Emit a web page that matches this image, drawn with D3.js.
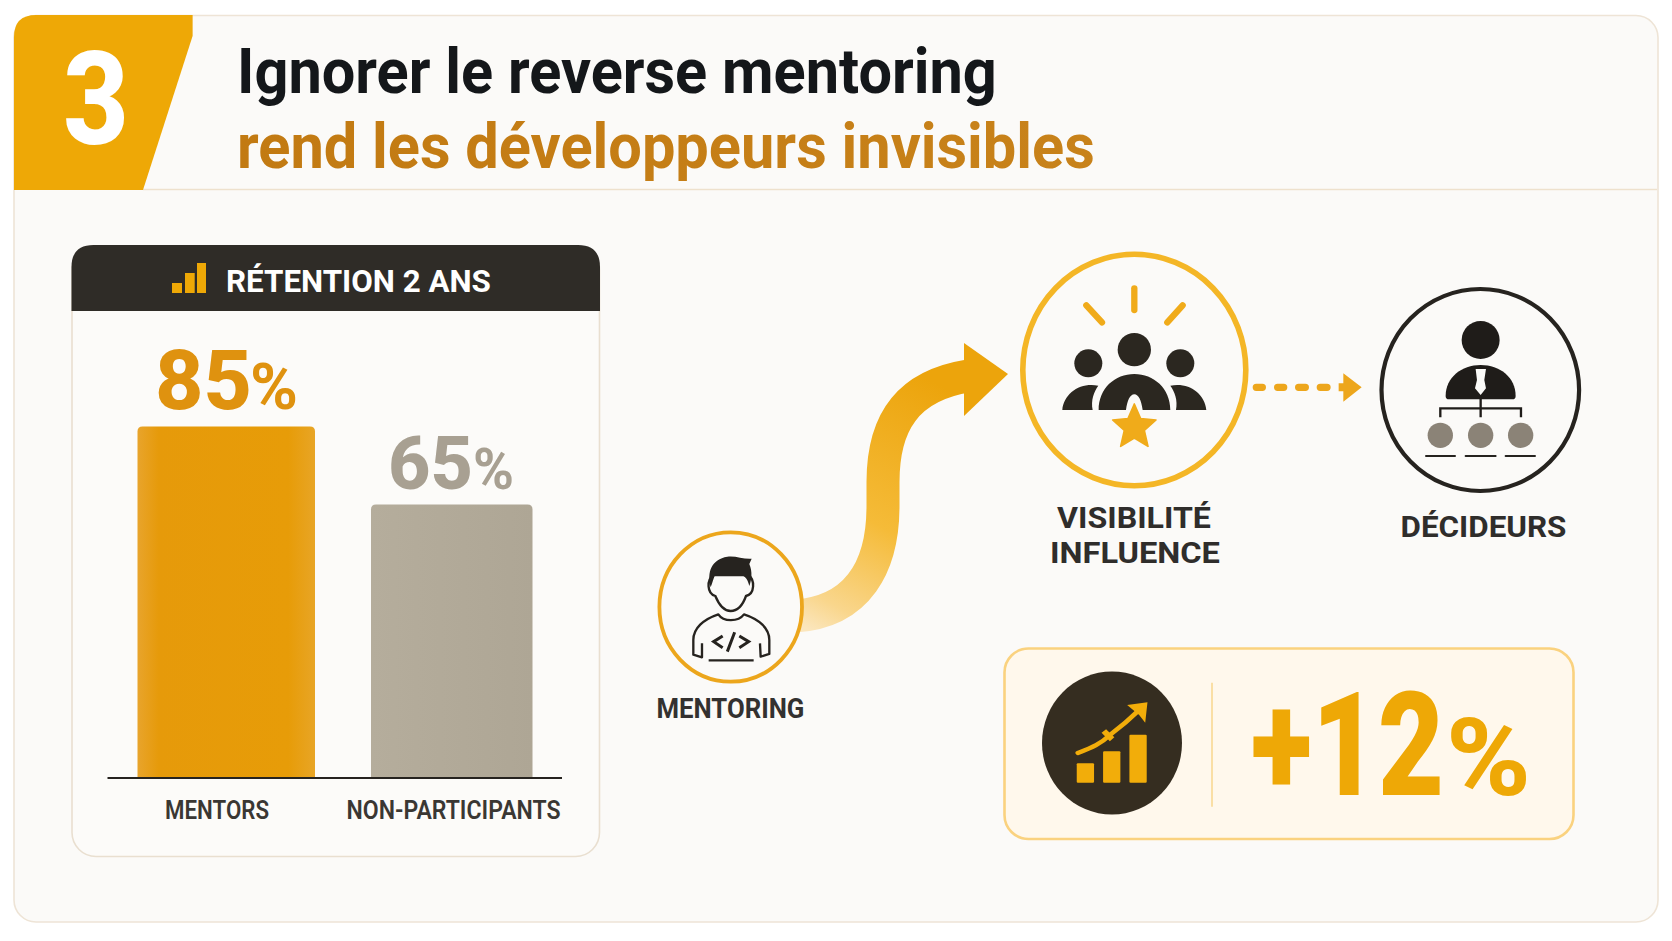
<!DOCTYPE html>
<html lang="fr">
<head>
<meta charset="utf-8">
<title>Ignorer le reverse mentoring</title>
<script src="https://cdn.jsdelivr.net/npm/d3@7"></script>
<style>
html,body{margin:0;padding:0;background:#fff;overflow:hidden}
svg{display:block}
text{font-family:Roboto,"Liberation Sans",sans-serif}
</style>
</head>
<body>
<svg id="c" width="1672" height="941"></svg>
<script>
const categories = ["MENTORS", "NON-PARTICIPANTS"];
const retention = [85, 65];
const valueSuffix = "%";
const chartTitle = "RÉTENTION 2 ANS";
const titleLines = ["Ignorer le reverse mentoring", "rend les développeurs invisibles"];
const stepNumber = "3";
const gain = "+12";

const svg = d3.select("#c");
const defs = svg.append("defs");
const AMBER = "#eea806", INK = "#2b2720";

function gradient(id, attrs, stops){
  const g = defs.append("linearGradient").attr("id", id);
  Object.entries(attrs).forEach(([k,v]) => g.attr(k,v));
  stops.forEach(([o,c]) => g.append("stop").attr("offset",o).attr("stop-color",c));
}
gradient("bandGrad",{gradientUnits:"userSpaceOnUse",x1:800,y1:625,x2:930,y2:380},
  [[0,"#fbe6bd"],[0.12,"#f9d68c"],[0.45,"#f5bb38"],[1,"#eca40c"]]);
gradient("mentorGrad",{x1:0,x2:1,y1:0,y2:0},[[0,"#e8a42c"],[0.12,"#e69a0a"],[0.85,"#e79c08"],[1,"#e8a526"]]);
gradient("otherGrad",{x1:0,x2:1,y1:0,y2:0},[[0,"#b5ad9c"],[1,"#aea695"]]);
gradient("title2Grad",{x1:0,x2:1,y1:0,y2:0},[[0,"#c27a12"],[1,"#c8821a"]]);

/* fits the text to a target width by a horizontal scale, so that its real box is that width */
function label(parent, str, x, y, size, weight, fill, length){
  const t = parent.append("text").attr("font-size",size).attr("font-weight",weight).attr("fill",fill).text(str);
  const natural = t.node().getComputedTextLength();
  t.attr("transform",`translate(${x},${y}) scale(${length/natural},1)`);
  return t;
}

/* ---------- outer card and header ---------- */
svg.append("rect").attr("x",14).attr("y",15.5).attr("width",1644).attr("height",906.5)
  .attr("rx",22).attr("fill","#fbfaf8").attr("stroke","#eee4d6").attr("stroke-width",1.6);
svg.append("line").attr("x1",143).attr("x2",1657).attr("y1",189.5).attr("y2",189.5)
  .attr("stroke","#eee1cd").attr("stroke-width",1.6);
svg.append("path").attr("fill",AMBER)
  .attr("d","M14,190 L14,37 Q14,15 36,15 L192.6,15 L192.6,36 L143,190 Z");
label(svg, stepNumber, 63, 144, 129, 800, "#ffffff", 66);
label(svg, titleLines[0], 237, 93, 63, 700, "#14171a", 760);
label(svg, titleLines[1], 237, 168, 63, 700, "url(#title2Grad)", 858);

/* ---------- bar chart panel ---------- */
svg.append("rect").attr("x",72).attr("y",246).attr("width",527.5).attr("height",610.5)
  .attr("rx",24).attr("fill","#fcfbf9").attr("stroke","#e9dfd0").attr("stroke-width",1.6);
svg.append("path").attr("fill","#2f2c27")
  .attr("d","M71.5,311 L71.5,267 Q71.5,245 93.5,245 L578,245 Q600,245 600,267 L600,311 Z");
const headBars = svg.append("g").attr("fill",AMBER);
[[172,283,10,10],[185,273,9.7,20],[197,263,9,30]].forEach(b =>
  headBars.append("rect").attr("x",b[0]).attr("y",b[1]).attr("width",b[2]).attr("height",b[3]));
label(svg, chartTitle, 226, 292, 31, 700, "#ffffff", 265);

const x = d3.scalePoint().domain(categories).range([226.25, 451.75]);
const y = d3.scaleLinear().domain([-5.13, 85]).range([778, 426.5]);
const barHalf = d3.scaleOrdinal().domain(categories).range([88.75, 80.75]);
const fills = d3.scaleOrdinal().domain(categories).range(["url(#mentorGrad)","url(#otherGrad)"]);
const valueColor = d3.scaleOrdinal().domain(categories).range(["#df920f","#a8a092"]);

const data = categories.map((c,i) => ({c, v:retention[i]}));
svg.append("g").selectAll("path").data(data).join("path")
  .attr("fill", d => fills(d.c))
  .attr("d", d => {
    const l = x(d.c)-barHalf(d.c), r = x(d.c)+barHalf(d.c), t = y(d.v), b = y(y.domain()[0]), k = 5;
    return `M${l},${b} L${l},${t+k} Q${l},${t} ${l+k},${t} L${r-k},${t} Q${r},${t} ${r},${t+k} L${r},${b} Z`;
  });

const axis = svg.append("g").attr("transform","translate(0,778)")
  .call(d3.axisBottom(x).tickSize(0).tickPadding(0));
axis.select(".domain").remove();
axis.append("line").attr("x1",107.5).attr("x2",562).attr("stroke","#26231f").attr("stroke-width",1.8);
const tickText = axis.selectAll(".tick text");
const tickDx = [-9.75, 1.25], tickLen = [104, 214];
tickText.each(function(d,i){
  d3.select(this).attr("x",tickDx[i]).attr("y",41).attr("dy",null)
    .attr("font-size",25).attr("font-weight",600).attr("fill","#3a3733")
    .attr("font-family","Roboto").attr("text-anchor","middle")
    .attr("textLength",tickLen[i]).attr("lengthAdjust","spacingAndGlyphs");
});

const numSpec = [
  {nx:155, nw:97, ny:409, ns:84, px:250, pw:48, ps:64},
  {nx:388, nw:85, ny:488.5, ns:75, px:473, pw:41, ps:58}
];
data.forEach((d,i) => {
  const s = numSpec[i];
  label(svg, String(d.v), s.nx, s.ny, s.ns, 800, valueColor(d.c), s.nw);
  label(svg, valueSuffix, s.px, s.ny, s.ps, 700, valueColor(d.c), s.pw);
});

/* ---------- flow arrow ---------- */
svg.append("path").attr("fill","none").attr("stroke","url(#bandGrad)").attr("stroke-width",33)
  .attr("d","M795,616 C858,612 883,566 883,506 L883,482 C883,424 906,386 968,376");
svg.append("path").attr("fill","#eca40c").attr("d","M1008,374 L964,343 L964,416 Z");

/* ---------- mentoring node ---------- */
svg.append("ellipse").attr("cx",730.7).attr("cy",607).attr("rx",71.3).attr("ry",74.7)
  .attr("fill","#fbfaf8").attr("stroke","#eca61c").attr("stroke-width",3.8);
const m = svg.append("g").attr("transform","translate(640,500) scale(0.3333)");
m.append("path").attr("fill","#fbfaf8").attr("stroke","#26231f").attr("stroke-width",7)
  .attr("d","M220,225 C200,240 200,280 226,288 C240,322 258,333 272,333 C288,333 306,322 318,288 C345,282 345,240 326,225 Z");
m.append("path").attr("fill","#26231f")
  .attr("d","M212,262 C200,215 215,178 262,170 C285,166 310,178 335,176 L328,192 C338,215 335,240 328,258 C322,232 310,222 285,224 C262,226 240,226 228,222 C220,232 218,248 212,262 Z");
m.append("path").attr("fill","none").attr("stroke","#26231f").attr("stroke-width",7).attr("stroke-linejoin","round")
  .attr("d","M186,430 L186,472 L160,464 L160,420 C160,385 190,358 235,343 C250,366 295,366 312,343 C358,358 388,385 388,420 L388,462 L362,470 L360,430");
m.append("path").attr("fill","none").attr("stroke","#26231f").attr("stroke-width",9)
  .attr("d","M248,408 L221,425 L248,443 M298,408 L326,425 L298,443 M284,397 L262,455");
m.append("line").attr("x1",206).attr("x2",341).attr("y1",481).attr("y2",481).attr("stroke","#26231f").attr("stroke-width",7);
label(svg, "MENTORING", 656.5, 718, 27, 700, "#333130", 148);

/* ---------- visibility node ---------- */
svg.append("ellipse").attr("cx",1134.3).attr("cy",370).attr("rx",111.5).attr("ry",115.7)
  .attr("fill","#fbfaf8").attr("stroke","#f4b626").attr("stroke-width",5.6);
const v = svg.append("g").attr("transform","translate(1000,240) scale(0.3333)");
[[403,145,403,210],[259,196,306,247],[548,196,502,247]].forEach(r =>
  v.append("line").attr("x1",r[0]).attr("y1",r[1]).attr("x2",r[2]).attr("y2",r[3])
   .attr("stroke","#f0ab1a").attr("stroke-width",19).attr("stroke-linecap","round"));
[[403,329,50],[265,370,42],[541,370,42]].forEach(c =>
  v.append("circle").attr("cx",c[0]).attr("cy",c[1]).attr("r",c[2]).attr("fill",INK));
v.append("path").attr("fill",INK)
  .attr("d","M296,510 C296,445 345,402 403,402 C461,402 511,445 511,510 L428,510 C424,482 416,463 403,463 C390,463 382,482 378,510 Z");
v.append("path").attr("fill",INK).attr("d","M187,510 C192,460 240,426 295,437 C282,455 272,480 278,510 Z");
v.append("path").attr("fill",INK).attr("d","M619,510 C614,460 566,426 511,437 C524,455 534,480 528,510 Z");
v.append("path").attr("fill","#f0ab1a").attr("stroke","#f0ab1a").attr("stroke-width",5).attr("stroke-linejoin","round")
  .attr("d","M403,492 L422,536 L468,540 L433,571 L444,619 L403,594 L362,619 L373,571 L338,540 L384,536 Z");
label(svg, "VISIBILITÉ", 1057, 528, 30, 700, "#2f2d2b", 154);
label(svg, "INFLUENCE", 1050, 563, 30, 700, "#2f2d2b", 170);

/* ---------- dashed arrow ---------- */
const da = svg.append("g").attr("transform","translate(1240,270) scale(0.3333)");
da.append("path").attr("fill","none").attr("stroke","#eda61c").attr("stroke-width",22).attr("stroke-linecap","round")
  .attr("d","M49,352 L67,352 M113,352 L131,352 M176,352 L196,352 M241,352 L261,352");
da.append("path").attr("fill","#eda61c").attr("d","M310,310 L365,352 L310,395 L310,364 L296,364 L296,340 L310,340 Z");

/* ---------- deciders node ---------- */
svg.append("ellipse").attr("cx",1480.3).attr("cy",390).attr("rx",98.8).attr("ry",101)
  .attr("fill","#fbfaf8").attr("stroke","#26231f").attr("stroke-width",4.2);
const de = svg.append("g").attr("transform","translate(1240,270) scale(0.3333)");
de.append("circle").attr("cx",722).attr("cy",210).attr("r",57).attr("fill","#1f1c19");
de.append("path").attr("fill","#1f1c19")
  .attr("d","M617,378 C617,322 665,285 722,285 C780,285 827,322 827,378 Q827,388 817,388 L627,388 Q617,388 617,378 Z");
de.append("path").attr("fill","#fbfaf8").attr("d","M707,297 L738,297 L733,330 L738,355 L722,375 L705,355 L711,330 Z");
de.append("path").attr("fill","none").attr("stroke","#1f1c19").attr("stroke-width",7)
  .attr("d","M722,375 L722,442 M601,442 L601,415 L843,415 L843,442");
[601,722,842].forEach(cx =>
  de.append("circle").attr("cx",cx).attr("cy",496).attr("r",38).attr("fill","#8b8377"));
[[558,645],[677,767],[797,885]].forEach(l =>
  de.append("line").attr("x1",l[0]).attr("x2",l[1]).attr("y1",558).attr("y2",558)
    .attr("stroke","#26231f").attr("stroke-width",6).attr("stroke-linecap","round"));
label(svg, "DÉCIDEURS", 1400.5, 537, 30, 700, "#2f2d2b", 166);

/* ---------- KPI box ---------- */
svg.append("rect").attr("x",1004.5).attr("y",648.5).attr("width",569).attr("height",190.5)
  .attr("rx",24).attr("fill","#fff8ec").attr("stroke","#fad27f").attr("stroke-width",2.6);
svg.append("ellipse").attr("cx",1112).attr("cy",743).attr("rx",70).attr("ry",71.5).attr("fill","#352d20");
svg.append("line").attr("x1",1212).attr("x2",1212).attr("y1",682.7).attr("y2",806.7)
  .attr("stroke","#f9d994").attr("stroke-width",1.6);
const k = svg.append("g").attr("transform","translate(1000,640) scale(0.3762,0.3333)");
[[204,370,46,58],[274,334,46,94],[344,284,46,144]].forEach(b =>
  k.append("rect").attr("x",b[0]).attr("y",b[1]).attr("width",b[2]).attr("height",b[3]).attr("rx",3).attr("fill","#f2ad0a"));
k.append("path").attr("fill","none").attr("stroke","#f2ad0a").attr("stroke-width",13).attr("stroke-linecap","round")
  .attr("d","M207,339 C245,322 270,310 290,287 C320,262 345,238 375,205");
k.append("path").attr("fill","#f2ad0a").attr("d","M338,195 L392,187 L386,248 L370,225 Z");
k.append("path").attr("fill","#f2ad0a").attr("d","M270,278 L282,268 L304,292 L292,304 Z");
label(svg, gain, 1251, 795, 145, 900, AMBER, 193);
label(svg, valueSuffix, 1446, 795, 108, 800, AMBER, 85);
</script>
</body>
</html>
